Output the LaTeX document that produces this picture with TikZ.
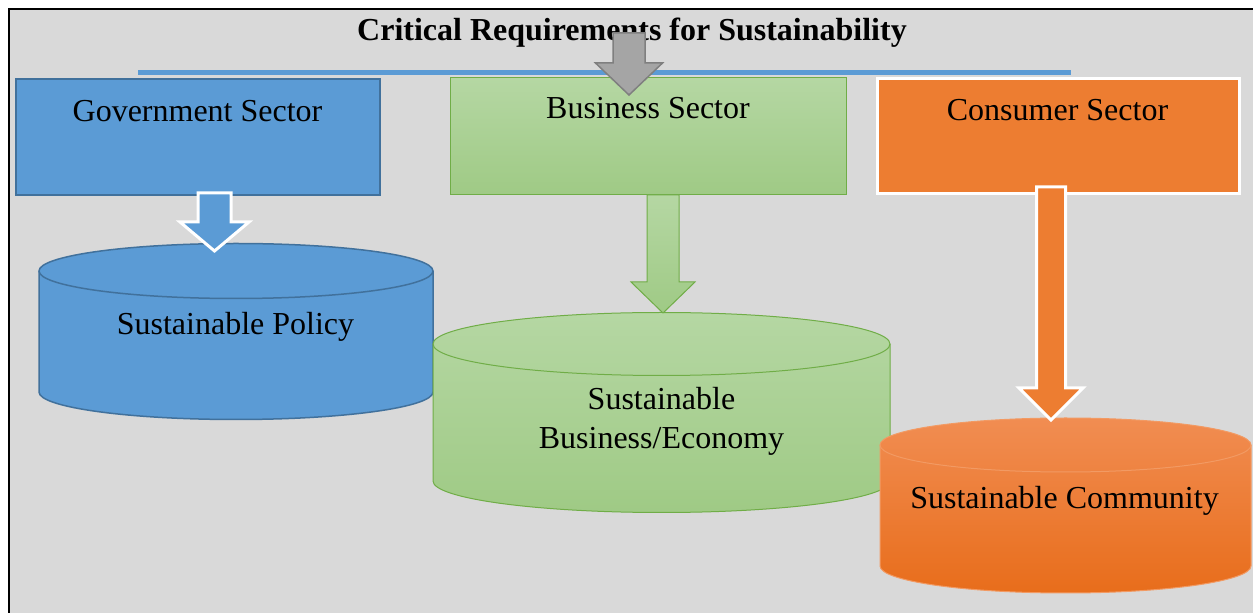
\documentclass[tikz,border=0pt]{standalone}
\usepackage{fontspec}
\setmainfont{Liberation Serif}
\usetikzlibrary{calc}

\definecolor{bg}{HTML}{D9D9D9}
\definecolor{govfill}{HTML}{5B9BD5}
\definecolor{govedge}{HTML}{41719C}
\definecolor{bizlight}{HTML}{B5D7A3}
\definecolor{bizdark}{HTML}{9FCA85}
\definecolor{bizedge}{HTML}{70AD47}
\definecolor{confill}{HTML}{ED7D31}
\definecolor{conlight}{HTML}{F18D52}
\definecolor{condark}{HTML}{E86D1B}
\definecolor{conedge}{HTML}{F29A63}
\definecolor{graytip}{HTML}{A5A5A5}
\definecolor{grayedge}{HTML}{7F7F7F}

% cylinder: #1 fill style, #2 edge style, #3 centre x, #4 top y, #5 bottom y, #6 x radius, #7 y radius
\newcommand\cylbody[7]{%
  \path[#1,#2] ({#3-#6},#4) -- ({#3-#6},#5)
    arc[start angle=180,end angle=360,x radius=#6,y radius=#7]
    -- ({#3+#6},#4)
    arc[start angle=0,end angle=180,x radius=#6,y radius=#7] -- cycle;
  \path[#2] ({#3-#6},#4)
    arc[start angle=180,end angle=360,x radius=#6,y radius=#7];
}
% downward block arrow: #1 style, #2 centre x, #3 top y, #4 head y, #5 tip y, #6 half shaft, #7 half head
\newcommand\downblock[7]{%
  \path[#1] ({#2-#6},#3) -- ({#2-#6},#4) -- ({#2-#7},#4) -- (#2,#5)
    -- ({#2+#7},#4) -- ({#2+#6},#4) -- ({#2+#6},#3) -- cycle;
}

\begin{document}
\begin{tikzpicture}[x=1pt,y=1pt,
  lbl/.style={font=\fontsize{32}{38}\selectfont,inner sep=0pt,anchor=base},
  govfillst/.style={fill=govfill},
  govedgest/.style={draw=govedge,line width=1.5pt},
  bizfillst/.style={top color=bizlight,bottom color=bizdark},
  bizedgest/.style={draw=bizedge,line width=1pt},
  confillst/.style={top color=conlight,bottom color=condark},
  conedgest/.style={draw=conedge,line width=1pt},
  sectorbox/.style={rectangle,inner sep=0pt}]
  \useasboundingbox (0,0) rectangle (1253,613);
  % page background and frame
  \fill[white] (0,0) rectangle (1253,613);
  \fill[bg] (9,0) rectangle (1253,604);
  \draw[black,line width=2.5pt] (9,0) -- (9,604) -- (1253,604);

  % heading and rule
  \node[lbl,font=\fontsize{32}{38}\selectfont\bfseries] (title) at (632,572)
    {Critical Requirements for Sustainability};
  \draw[govfill,line width=5.5pt] (138,540.5) -- (1071,540.5);

  % sector boxes
  \node[sectorbox,govfillst,govedgest,minimum width=364pt,minimum height=116pt] (gov) at (198,476) {};
  \node[sectorbox,bizfillst,bizedgest,minimum width=396pt,minimum height=117pt] (biz) at (648,476.5) {};
  \node[sectorbox,fill=confill,draw=white,line width=3pt,minimum width=362pt,minimum height=115.5pt] (con) at (1058.5,476.75) {};
  \node[lbl] (govtext) at (197.5,491) {Government Sector};
  \node[lbl] (biztext) at (648,494) {Business Sector};
  \node[lbl] (context) at (1057.5,492) {Consumer Sector};

  % cylinders
  \cylbody{govfillst}{govedgest}{236}{342}{221}{197}{27.5}
  \cylbody{bizfillst}{bizedgest}{661.5}{269}{132}{228.5}{31.5}
  \cylbody{confillst}{conedgest}{1065.5}{168}{47}{185.5}{27}
  \node[lbl] (policy) at (235.5,278) {Sustainable Policy};
  \node[lbl] (econ1) at (661.5,203) {Sustainable};
  \node[lbl] (econ2) at (661.5,164) {Business/Economy};
  \node[lbl] (community) at (1064.5,104) {Sustainable Community};

  % block arrows
  \downblock{fill=graytip,draw=grayedge,line width=1.5pt}{629}{580}{550}{518}{16}{33.5}
  \downblock{fill=govfill,draw=white,line width=3pt}{214.5}{420}{391}{362}{16.5}{34.5}
  \downblock{bizfillst,bizedgest}{663}{418}{331}{300}{16}{32}
  \downblock{fill=confill,draw=white,line width=3pt}{1051}{426}{225}{193}{14.5}{32}
\end{tikzpicture}
\end{document}
